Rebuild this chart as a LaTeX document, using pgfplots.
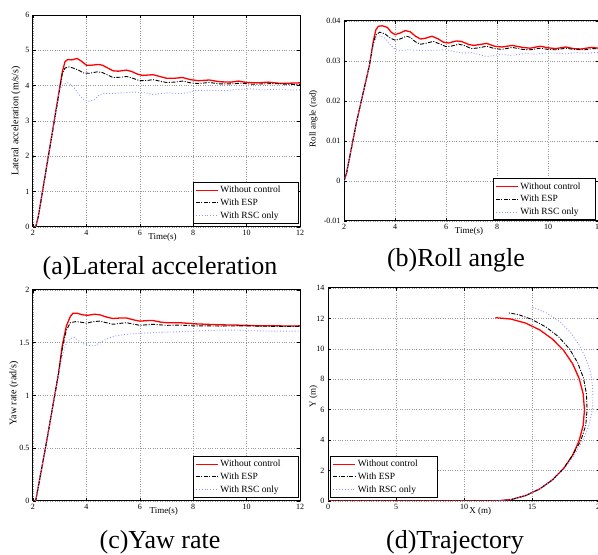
\documentclass[border=0pt]{standalone}
\usepackage{fontspec}
\setmainfont{Liberation Serif}
\usepackage{pgfplots}
\pgfplotsset{compat=1.18}

\definecolor{rscblue}{RGB}{140,150,255}

\pgfplotsset{
  panel/.style={
    scale only axis,
    grid=major,
    grid style={dotted, gray!80, line width=0.6bp},
    axis line style={line width=1bp},
    tick align=inside,
    major tick length=3bp,
    tick style={black, line width=0.5bp},
    ticklabel style={font=\fontsize{8bp}{9bp}\selectfont},
    scaled ticks=false,
    /pgf/number format/assume math mode=true,
    label style={font=\fontsize{9bp}{10bp}\selectfont},
    legend cell align=left,
    legend style={font=\fontsize{9.5bp}{11bp}\selectfont, draw=black, line width=1bp,
      inner xsep=2bp, inner ysep=2bp, row sep=0.5bp},
    legend image code/.code={\draw[##1] (0bp,0bp) -- (22bp,0bp);},
  },
  woc/.style={red, line width=1.3bp},
  esp/.style={black, line width=0.9bp, dash pattern=on 4bp off 1.5bp on 1bp off 1.5bp},
  rsc/.style={rscblue, line width=0.9bp, dotted},
}

\begin{document}
\begin{tikzpicture}
\path[use as bounding box] (0,0) rectangle (598bp,555bp);

% (a) lateral acceleration
\begin{axis}[panel, at={(33bp,328bp)}, anchor=south west,
  width=267bp, height=212bp,
  xmin=2, xmax=12, ymin=0, ymax=6, xtick={2,4,...,12}, ytick={0,1,...,6},
  xlabel={Time(s)}, ylabel={Lateral acceleration (m/s/s)},
  xlabel style={at={(axis description cs:0.485,0)}, anchor=north, yshift=-3bp},
  ylabel style={at={(axis description cs:0,0.5)}, anchor=south, yshift=9bp,
    font=\fontsize{10bp}{11bp}\selectfont},
  legend style={at={(1,0)}, anchor=south east, xshift=-1bp, yshift=3bp}]
\addplot[woc] coordinates {(2,0) (2.1,0) (2.2,0.3) (3.1,4.4) (3.2,4.68) (3.3,4.74) (3.45,4.73)
 (3.65,4.77) (3.8,4.7) (4.0,4.58) (4.2,4.58) (4.45,4.6) (4.6,4.58) (4.8,4.5) (5.0,4.42) (5.2,4.41)
 (5.5,4.44) (5.7,4.4) (5.9,4.33) (6.1,4.29) (6.3,4.3) (6.5,4.31) (6.8,4.25) (7.0,4.21) (7.3,4.21)
 (7.6,4.23) (7.9,4.17) (8.2,4.14) (8.6,4.16) (9.0,4.11) (9.4,4.1) (9.7,4.13) (10.0,4.09)
 (10.4,4.08) (10.8,4.1) (11.2,4.07) (11.6,4.07) (12,4.08)};
\addplot[esp] coordinates {(2.1,0) (2.2,0.3) (3.1,4.35) (3.2,4.5) (3.35,4.53) (3.5,4.5) (3.7,4.44)
 (3.9,4.36) (4.1,4.35) (4.4,4.39) (4.6,4.37) (4.8,4.3) (5.0,4.23) (5.3,4.24) (5.5,4.26) (5.7,4.22)
 (6.0,4.14) (6.3,4.15) (6.5,4.17) (6.8,4.12) (7.0,4.09) (7.3,4.1) (7.6,4.13) (7.9,4.08) (8.2,4.06)
 (8.6,4.09) (9.0,4.05) (9.4,4.05) (9.8,4.07) (10.2,4.04) (10.6,4.05) (11,4.06) (11.5,4.04) (12,4.03)};
\addplot[rsc] coordinates {(2.1,0) (2.2,0.3) (3.0,3.9) (3.15,4.05) (3.3,4.08) (3.45,4.02) (3.6,3.88)
 (3.75,3.72) (3.9,3.6) (4.1,3.56) (4.3,3.6) (4.45,3.72) (4.6,3.78) (5.0,3.78) (5.4,3.8) (5.8,3.82)
 (6.2,3.8) (6.5,3.75) (6.8,3.78) (7.1,3.8) (7.5,3.77) (7.8,3.8) (8.1,3.86) (8.6,3.87) (9.2,3.86)
 (9.6,3.89) (10.1,3.91) (10.6,3.88) (11.2,3.9) (11.6,3.88) (12,3.88)};
\legend{Without control\hspace{14bp}\mbox{}, With ESP, With RSC only}
\end{axis}

% (b) roll angle
\begin{axis}[panel, at={(344bp,334bp)}, anchor=south west,
  width=255bp, height=200bp,
  xmin=2, xmax=12, ymin=-0.01, ymax=0.04, xtick={2,4,...,12},
  ytick={-0.01,0,0.01,0.02,0.03,0.04},
  yticklabels={-0.01,0,0.01,0.02,0.03,0.04},
  xlabel={Time(s)}, ylabel={Roll angle (rad)},
  xlabel style={at={(axis description cs:0.49,0)}, anchor=north, yshift=-3bp},
  ylabel style={at={(axis description cs:0,0.51)}, anchor=south, yshift=23bp},
  legend style={at={(1,0)}, anchor=south east, xshift=-3bp, yshift=0.5bp}]
\addplot[woc] coordinates {(2,0) (2.1,0.002) (2.5,0.015) (3.0,0.029) (3.15,0.035) (3.25,0.0378)
 (3.35,0.0387) (3.5,0.0388) (3.7,0.0384) (3.85,0.0372) (4.0,0.0366) (4.2,0.037) (4.4,0.0376)
 (4.6,0.0373) (4.8,0.0362) (5.0,0.0355) (5.2,0.0357) (5.45,0.0362) (5.7,0.0355) (5.9,0.0347)
 (6.1,0.0345) (6.4,0.035) (6.6,0.0349) (6.9,0.0341) (7.1,0.0339) (7.4,0.0342) (7.6,0.0344)
 (7.9,0.0337) (8.2,0.0335) (8.6,0.0339) (9.0,0.0334) (9.3,0.0332) (9.7,0.0337) (10.0,0.0333)
 (10.3,0.0331) (10.7,0.0335) (11.0,0.0331) (11.3,0.033) (11.7,0.0334) (12,0.0332)};
\addplot[esp] coordinates {(2,0) (2.1,0.002) (2.5,0.015) (3.0,0.029) (3.15,0.0345) (3.25,0.0365)
 (3.4,0.0372) (3.6,0.0368) (3.8,0.0358) (4.0,0.0352) (4.2,0.0355) (4.45,0.0362) (4.6,0.0359)
 (4.8,0.0348) (5.0,0.0342) (5.2,0.0344) (5.5,0.0349) (5.7,0.0344) (6.0,0.0336) (6.2,0.0337)
 (6.5,0.0342) (6.7,0.0339) (7.0,0.0331) (7.3,0.0333) (7.6,0.0337) (7.9,0.0331) (8.2,0.0329)
 (8.6,0.0334) (9.0,0.0329) (9.3,0.0328) (9.7,0.0332) (10.0,0.0329) (10.3,0.0328) (10.7,0.0332)
 (11.0,0.0329) (11.4,0.0328) (11.8,0.0331) (12,0.033)};
\addplot[rsc] coordinates {(2,0) (2.1,0.002) (2.5,0.015) (3.0,0.029) (3.15,0.034) (3.3,0.0362)
 (3.45,0.0363) (3.6,0.0357) (3.8,0.0342) (4.0,0.0329) (4.2,0.0325) (4.5,0.0328) (4.8,0.0327)
 (5.2,0.0326) (5.6,0.0327) (6.0,0.0328) (6.3,0.0324) (6.6,0.032) (7.0,0.0321) (7.3,0.0316)
 (7.6,0.0311) (7.9,0.0314) (8.2,0.0317) (8.5,0.0314) (8.8,0.0316) (9.1,0.0319) (9.5,0.0317)
 (9.9,0.032) (10.3,0.032) (10.7,0.0318) (11.1,0.0321) (11.5,0.0319) (12,0.0322)};
\legend{Without control\hspace{11bp}\mbox{}, With ESP, With RSC only}
\end{axis}

% (c) yaw rate
\begin{axis}[panel, at={(33bp,54bp)}, anchor=south west,
  width=267bp, height=211bp,
  xmin=2, xmax=12, ymin=0, ymax=2, xtick={2,4,...,12}, ytick={0,0.5,1,1.5,2},
  yticklabels={0,0.5,1,1.5,2},
  xlabel={Time(s)}, ylabel={Yaw rate (rad/s)},
  xlabel style={at={(axis description cs:0.49,0)}, anchor=north, yshift=-3bp},
  ylabel style={at={(axis description cs:0,0.51)}, anchor=south, yshift=11bp,
    font=\fontsize{10bp}{11bp}\selectfont},
  legend style={at={(1,0)}, anchor=south east, xshift=-1bp, yshift=3bp}]
\addplot[woc] coordinates {(2,0) (2.1,0) (2.5,0.55) (2.95,1.2) (3.1,1.48) (3.25,1.66) (3.4,1.75)
 (3.5,1.78) (3.65,1.78) (3.85,1.765) (4.05,1.76) (4.3,1.77) (4.5,1.765) (4.8,1.74) (5.0,1.73)
 (5.3,1.735) (5.5,1.735) (5.8,1.715) (6.0,1.705) (6.3,1.71) (6.5,1.71) (6.8,1.695) (7.0,1.69)
 (7.5,1.69) (8.0,1.68) (8.5,1.675) (9.0,1.67) (9.5,1.668) (10,1.665) (10.5,1.66) (11,1.662)
 (11.5,1.658) (12,1.66)};
\addplot[esp] coordinates {(2.1,0) (2.5,0.55) (2.95,1.2) (3.1,1.45) (3.25,1.62) (3.4,1.69) (3.6,1.70)
 (3.8,1.695) (4.0,1.685) (4.25,1.7) (4.5,1.705) (4.75,1.69) (5.0,1.675) (5.3,1.685) (5.5,1.69)
 (5.8,1.675) (6.0,1.665) (6.5,1.675) (7.0,1.665) (7.5,1.668) (8.0,1.66) (8.5,1.66) (9,1.658)
 (10,1.66) (11,1.655) (12,1.655)};
\addplot[rsc] coordinates {(2.1,0) (2.5,0.55) (2.95,1.18) (3.1,1.38) (3.25,1.5) (3.4,1.54) (3.55,1.55)
 (3.7,1.52) (3.9,1.49) (4.1,1.475) (4.3,1.47) (4.5,1.5) (4.8,1.54) (5.1,1.565) (5.5,1.58) (6.0,1.59)
 (6.5,1.595) (7.0,1.6) (7.5,1.605) (8.0,1.61) (8.5,1.615) (9.0,1.62) (9.5,1.62) (10,1.615)
 (11,1.61) (12,1.61)};
\legend{Without control\hspace{14bp}\mbox{}, With ESP, With RSC only}
\end{axis}

% (d) trajectory
\begin{axis}[panel, at={(328bp,54bp)}, anchor=south west,
  width=272bp, height=213bp,
  xmin=0, xmax=20, ymin=0, ymax=14, xtick={0,5,...,20}, ytick={0,2,...,14},
  xlabel={X (m)}, ylabel={Y (m)},
  xlabel style={at={(axis description cs:0.56,0)}, anchor=north, yshift=-3bp},
  ylabel style={at={(axis description cs:0,0.49)}, anchor=south, yshift=7bp},
  legend style={at={(0,0)}, anchor=south west, xshift=2bp, yshift=3bp}]
\addplot[woc] coordinates {(0,0) (12.3,0) (13.44,0.09) (14.54,0.36) (15.58,0.80) (16.52,1.40)
 (17.33,2.14) (17.98,3.00) (18.46,3.95) (18.76,4.96) (18.86,6.00) (18.76,7.05) (18.46,8.07)
 (17.98,9.03) (17.33,9.89) (16.52,10.63) (15.58,11.24) (14.54,11.69) (13.44,11.96) (12.3,12.05)};
\addplot[esp] coordinates {(0,0) (12.3,0) (13.44,0.09) (14.54,0.36) (15.58,0.80) (16.52,1.40)
 (17.33,2.14) (17.98,3.00) (18.58,3.95) (18.95,4.96) (19.05,6.0) (19.0,7.05) (18.78,8.1)
 (18.35,9.1) (17.75,10.0) (16.95,10.8) (16.0,11.45) (14.95,11.95) (14.0,12.25) (13.2,12.38)};
\addplot[rsc] coordinates {(0,0) (12.3,0) (13.44,0.09) (14.54,0.36) (15.58,0.80) (16.55,1.40)
 (17.4,2.14) (18.1,3.0) (18.75,4.0) (19.2,5.0) (19.45,6.1) (19.48,7.2) (19.35,8.3) (19.0,9.3)
 (18.5,10.2) (17.9,11.0) (17.1,11.75) (16.1,12.35) (15.0,12.75)};
\legend{Without control\hspace{16bp}\mbox{}, With ESP, With RSC only}
\end{axis}

\node at (160bp,287bp) {\fontsize{26bp}{29bp}\selectfont (a)Lateral acceleration};
\node at (456bp,295bp) {\fontsize{26bp}{29bp}\selectfont (b)Roll angle};
\node at (160bp,13bp) {\fontsize{26bp}{29bp}\selectfont (c)Yaw rate};
\node at (455bp,13bp) {\fontsize{26bp}{29bp}\selectfont (d)Trajectory};
\end{tikzpicture}
\end{document}
